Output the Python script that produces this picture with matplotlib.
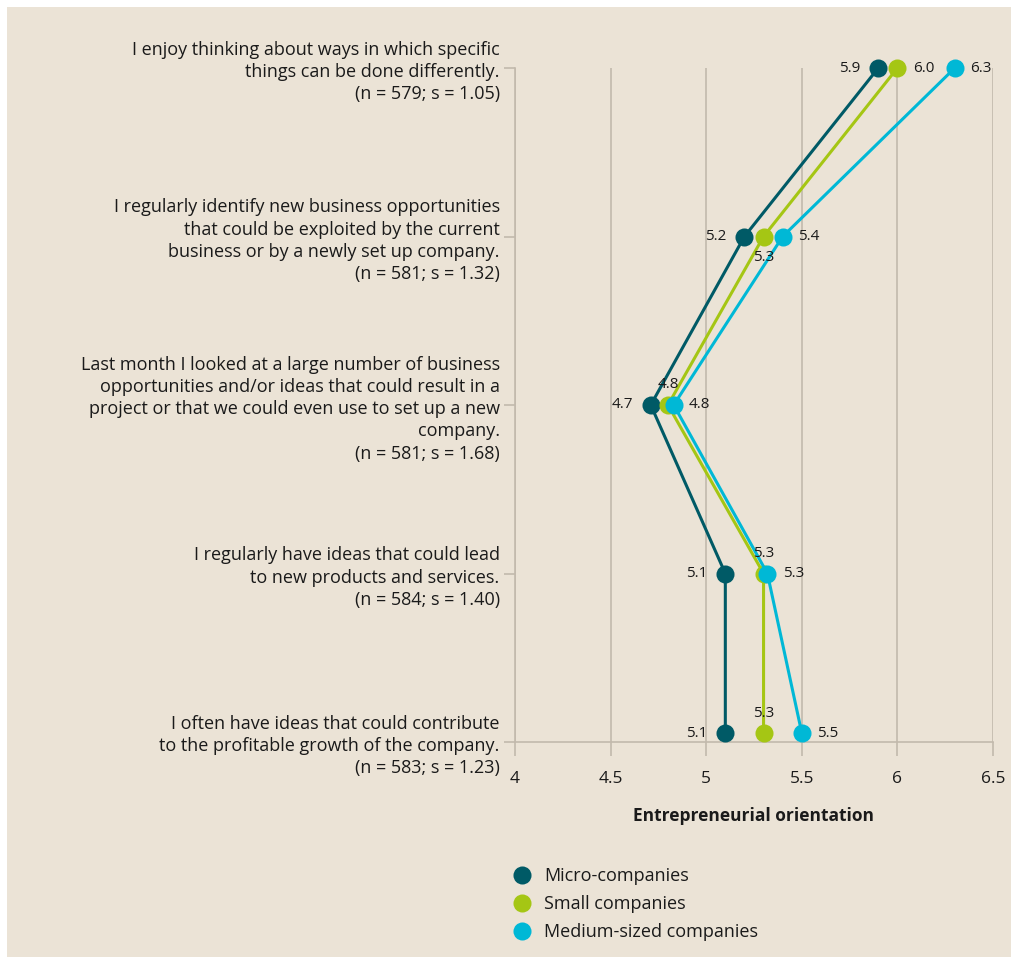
import matplotlib.pyplot as plt
import numpy as np

plt.rcParams['font.family'] = ['Open Sans', 'DejaVu Sans']

statements = [
    'I enjoy thinking about ways in which specific\nthings can be done differently.\n(n = 579; s = 1.05)',
    'I regularly identify new business opportunities\nthat could be exploited by the current\nbusiness or by a newly set up company.\n(n = 581; s = 1.32)',
    'Last month I looked at a large number of business\nopportunities and/or ideas that could result in a\nproject or that we could even use to set up a new\ncompany.\n(n = 581; s = 1.68)',
    'I regularly have ideas that could lead\nto new products and services.\n(n = 584; s = 1.40)',
    'I often have ideas that could contribute\nto the profitable growth of the company.\n(n = 583; s = 1.23)',
]

micro = [5.9, 5.2, 4.71, 5.1, 5.1]
small = [6.0, 5.3, 4.8, 5.3, 5.3]
medium = [6.3, 5.4, 4.83, 5.32, 5.5]

micro_lbl = ['5.9', '5.2', '4.7', '5.1', '5.1']
small_lbl = ['6.0', '5.3', '4.8', '5.3', '5.3']
medium_lbl = ['6.3', '5.4', '4.8', '5.3', '5.5']

bg = '#ebe3d6'
grid_c = '#c2b9ac'
c_micro = '#005a66'
c_small = '#a5c614'
c_medium = '#00b8d6'
txt = '#1a1a1a'

fig = plt.figure(figsize=(10.12, 9.6), dpi=100, facecolor='white')
fig.patches.append(plt.Rectangle((7 / 1012, 3 / 960), 1, 1 - 10 / 960,
                                 transform=fig.transFigure, facecolor=bg,
                                 edgecolor='none', zorder=-10))
ax = fig.add_axes([515 / 1012, 1 - 742 / 960, (993 - 515) / 1012, (742 - 68) / 960])
ax.set_facecolor(bg)

y = np.arange(len(statements))
# points of the last statement sit slightly above its tick in the original
py = y.astype(float)
py[-1] -= 0.053

for xs, c in [(micro, c_micro), (small, c_small), (medium, c_medium)]:
    ax.plot(xs, py, '-', color=c, lw=2.2, marker='o', ms=13, mec='none',
            clip_on=False, zorder=3)

fs = 11
for i in range(len(y)):
    ax.annotate(micro_lbl[i], (micro[i], py[i]), xytext=(-13, 0), textcoords='offset points',
                ha='right', va='center', fontsize=fs, color=txt)
    ax.annotate(medium_lbl[i], (medium[i], py[i]), xytext=(11, 0), textcoords='offset points',
                ha='left', va='center', fontsize=fs, color=txt)
    if i == 0:
        ax.annotate(small_lbl[i], (small[i], py[i]), xytext=(11, 0), textcoords='offset points',
                    ha='left', va='center', fontsize=fs, color=txt)
    elif i == 1:
        ax.annotate(small_lbl[i], (small[i], py[i]), xytext=(0, -10), textcoords='offset points',
                    ha='center', va='top', fontsize=fs, color=txt)
    else:
        ax.annotate(small_lbl[i], (small[i], py[i]), xytext=(0, 9), textcoords='offset points',
                    ha='center', va='bottom', fontsize=fs, color=txt)

ax.set_xlim(4, 6.5)
ax.set_ylim(len(y) - 1, 0)
ax.set_xticks([4, 4.5, 5, 5.5, 6, 6.5])
ax.set_xticklabels(['4', '4.5', '5', '5.5', '6', '6.5'])
ax.set_yticks(y)
ax.set_yticklabels(statements, fontsize=13, color=txt, linespacing=1.3)
ax.tick_params(axis='x', length=10, color=grid_c, width=1.2, labelsize=12.5, labelcolor=txt, pad=11)
ax.tick_params(axis='y', length=8, color=grid_c, width=1.2, pad=3)

ax.grid(axis='x', color=grid_c, lw=1.2, zorder=0)
ax.set_axisbelow(True)
for s in ['top', 'right']:
    ax.spines[s].set_visible(False)
for s in ['left', 'bottom']:
    ax.spines[s].set_color(grid_c)
    ax.spines[s].set_linewidth(1.2)

ax.set_xlabel('Entrepreneurial orientation', fontsize=12.5, fontweight='bold',
              color=txt, labelpad=14)

handles = [plt.Line2D([], [], ls='none', marker='o', ms=13, color=c, mec='none')
           for c in (c_micro, c_small, c_medium)]
fig.legend(handles, ['Micro-companies', 'Small companies', 'Medium-sized companies'],
           loc='upper left', bbox_to_anchor=(495 / 1012, 1 - 851 / 960), frameon=False,
           fontsize=13, handletextpad=0.6, labelspacing=0.55, handlelength=1.2,
           labelcolor=txt)

fig.savefig('out.png', dpi=100, facecolor='white')
